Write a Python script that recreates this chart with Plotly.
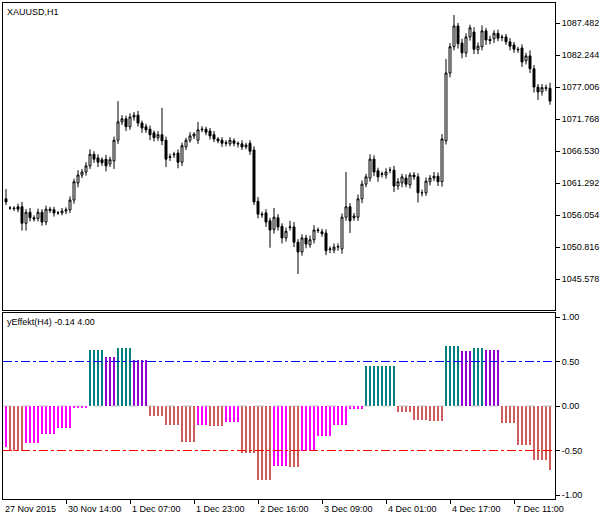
import plotly.graph_objects as go
from plotly.subplots import make_subplots

# H1 candles, XAUUSD (index = bar number)
opens = [1058.7, 1057.2, 1057.2, 1057.4, 1057.4, 1054.7, 1056.5, 1055.6, 1055.5, 1056.5,
         1054.9, 1057.0, 1056.9, 1056.4, 1056.4, 1056.7, 1056.9, 1058.5, 1061.3, 1062.6,
         1063.1, 1064.1, 1066.0, 1065.4, 1065.1, 1065.2, 1064.4, 1064.9, 1068.3, 1071.3,
         1071.8, 1070.5, 1072.1, 1072.4, 1071.1, 1070.5, 1070.1, 1069.5, 1068.7, 1069.2,
         1068.3, 1065.6, 1065.9, 1066.2, 1064.7, 1067.2, 1068.3, 1069.0, 1068.3, 1070.0,
         1070.1, 1069.8, 1069.2, 1068.5, 1068.3, 1067.9, 1067.7, 1068.2, 1067.8, 1067.7,
         1067.2, 1067.8, 1066.7, 1058.3, 1056.2, 1056.4, 1055.1, 1053.7, 1055.6, 1054.2,
         1052.3, 1054.0, 1054.1, 1051.6,
         1050.0, 1052.3, 1051.2, 1052.0, 1053.5, 1053.3, 1053.1, 1050.4, 1050.3, 1050.8,
         1050.5, 1055.7, 1057.4, 1055.6, 1055.7, 1058.7, 1061.1, 1062.1, 1065.2, 1063.3,
         1062.7, 1062.6, 1063.4, 1063.4, 1060.8, 1061.3, 1062.1, 1061.0, 1062.6, 1062.3,
         1059.7, 1059.7, 1061.5, 1062.1, 1062.4, 1061.5, 1068.2, 1079.3, 1083.6, 1087.0,
         1084.2, 1082.6, 1085.2, 1086.0, 1083.1, 1083.6, 1086.2, 1084.8, 1084.9, 1085.8,
         1085.1, 1085.2, 1084.4, 1083.9, 1083.2, 1083.4, 1081.3, 1082.1, 1080.0, 1077.0,
         1076.2, 1076.9, 1076.8]
closes = [1058.2, 1057.2, 1057.1, 1057.0, 1054.7, 1056.5, 1055.6, 1055.4, 1056.5, 1054.9,
          1057.0, 1056.8, 1056.4, 1056.4, 1056.7, 1056.9, 1058.5, 1061.5, 1062.6, 1063.1,
          1064.1, 1066.0, 1065.2, 1064.7, 1064.6, 1064.1, 1065.1, 1068.3, 1071.3, 1071.8,
          1070.5, 1072.1, 1072.4, 1071.1, 1070.3, 1070.0, 1069.2, 1068.7, 1069.2, 1068.2,
          1065.2, 1065.5, 1066.0, 1064.7, 1067.4, 1068.3, 1069.0, 1069.3, 1070.0, 1070.1,
          1069.6, 1069.0, 1068.5, 1068.2, 1067.8, 1067.8, 1068.3, 1067.8, 1067.7, 1067.2,
          1067.5, 1066.5, 1058.2, 1056.2, 1056.1, 1054.9, 1053.6, 1055.7, 1054.1, 1052.3,
          1053.4, 1054.1, 1051.6, 1050.0,
          1052.3, 1051.3, 1052.0, 1053.6, 1053.6, 1053.0, 1050.2, 1050.5, 1050.8, 1050.9,
          1055.7, 1057.4, 1055.1, 1055.9, 1058.7, 1061.1, 1062.3, 1065.2, 1063.1, 1062.3,
          1062.8, 1063.1, 1063.4, 1060.8, 1061.5, 1062.3, 1061.1, 1062.6, 1062.3, 1059.7,
          1059.7, 1061.6, 1062.1, 1062.4, 1061.5, 1068.5, 1079.3, 1083.6, 1087.0, 1084.1,
          1082.6, 1085.2, 1086.7, 1083.2, 1083.7, 1086.2, 1084.7, 1084.6, 1085.8, 1085.0,
          1085.2, 1084.4, 1083.7, 1083.2, 1083.1, 1081.1, 1082.1, 1080.0, 1077.0, 1076.2,
          1076.9, 1076.8, 1074.7]
# wick lengths above / below the body
wick_up = [1.6, 0.3, 0.3, 0.5, 0.8, 0.5, 0.7, 0.4, 0.6, 0.5,
           0.6, 0.4, 0.5, 0.3, 0.5, 0.4, 0.6, 0.5, 0.8, 0.5,
           0.6, 0.8, 0.5, 0.6, 0.4, 0.7, 0.5, 0.6, 3.4, 0.6,
           0.5, 0.6, 0.5, 0.7, 0.4, 0.5, 0.6, 0.4, 0.6, 4.4,
           0.6, 0.5, 0.4, 0.6, 0.5, 0.4, 0.6, 0.3, 1.3, 0.5,
           0.4, 0.5, 0.6, 0.3, 0.5, 0.4, 0.5, 0.4, 0.3, 0.6,
           0.4, 0.5, 0.6, 0.7, 0.4, 0.6, 0.5, 1.5, 0.6, 0.5,
           0.6, 1.0, 0.8, 0.5,
           0.6, 0.5, 0.7, 0.8, 0.4, 0.5, 0.6, 0.4, 0.6, 0.5,
           0.6, 5.7, 0.6, 0.5, 0.7, 0.6, 0.5, 0.8, 0.6, 0.5,
           0.4, 0.6, 0.5, 0.7, 0.6, 0.5, 0.6, 0.4, 0.5, 0.6,
           0.5, 0.6, 0.5, 0.7, 0.6, 0.8, 2.3, 0.6, 1.8, 0.5,
           0.7, 0.6, 0.5, 0.8, 0.6, 0.9, 0.5, 0.6, 0.5, 0.6,
           0.4, 0.5, 0.6, 0.5, 0.4, 0.6, 0.5, 0.9, 0.6, 0.5,
           0.6, 0.5, 0.9]
wick_dn = [0.5, 0.3, 0.4, 0.5, 1.2, 1.2, 0.6, 0.4, 0.5, 0.6,
           0.5, 0.4, 0.6, 0.3, 0.4, 0.5, 0.5, 0.6, 0.7, 0.5,
           0.6, 0.5, 0.6, 0.8, 0.5, 0.9, 0.5, 1.3, 0.6, 0.5,
           0.7, 0.5, 0.6, 0.6, 0.8, 0.5, 0.9, 0.6, 0.5, 0.7,
           1.3, 0.6, 0.5, 1.0, 0.6, 0.5, 0.4, 0.5, 0.6, 0.4,
           0.5, 0.6, 0.5, 0.4, 0.6, 0.5, 0.4, 0.5, 0.6, 0.5,
           0.4, 0.6, 0.5, 0.7, 0.5, 0.8, 2.9, 0.7, 0.6, 0.9,
           0.6, 0.5, 0.8, 3.6,
           0.6, 0.7, 0.5, 0.6, 0.4, 0.5, 0.7, 0.6, 0.5, 0.6,
           0.8, 0.6, 2.0, 0.5, 0.6, 0.7, 0.5, 0.6, 0.7, 0.8,
           0.5, 0.6, 0.5, 1.0, 0.6, 0.7, 0.5, 0.6, 0.5, 1.6,
           0.6, 0.5, 0.6, 0.5, 0.7, 0.8, 0.6, 0.7, 0.6, 0.8,
           0.9, 0.7, 0.6, 0.8, 0.7, 0.6, 0.8, 0.6, 0.7, 0.5,
           0.6, 0.5, 0.7, 0.6, 0.5, 0.8, 0.6, 0.7, 0.9, 1.3,
           0.6, 0.5, 0.6]

# yEffekt(H4) histogram, one value per H1 bar
effekt = [-0.46] + [-0.51] * 4 + [-0.42] * 4 + [-0.31] * 4 + [-0.25] * 4 + [-0.02] * 4 \
    + [0.63] * 4 + [0.55] * 3 + [0.65] * 4 + [0.52] * 4 \
    + [-0.11] * 4 + [-0.21] * 4 + [-0.41] * 4 + [-0.21] * 3 + [-0.22] * 4 + [-0.18] * 4 \
    + [-0.53] * 4 + [-0.83] * 4 + [-0.67] * 4 + [-0.68] * 3 \
    + [-0.50] * 4 + [-0.34] * 4 + [-0.21] * 4 + [-0.03] * 4 + [0.45] * 8 \
    + [-0.07] * 4 + [-0.16] * 4 + [-0.17] * 4 \
    + [0.67] * 4 + [0.62] * 3 + [0.65] * 3 + [0.63] * 4 \
    + [-0.19] * 4 + [-0.44] * 4 + [-0.61] * 4 + [-0.72]
effekt_kind = ["dn_rise"] + ["dn_fall"] * 4 + ["dn_rise"] * 16 \
    + ["up_rise"] * 4 + ["up_fall"] * 3 + ["up_rise"] * 4 + ["up_fall"] * 4 \
    + ["dn_fall"] * 12 + ["dn_rise"] * 3 + ["dn_fall"] * 4 + ["dn_rise"] * 4 \
    + ["dn_fall"] * 8 + ["dn_rise"] * 4 + ["dn_fall"] * 3 \
    + ["dn_rise"] * 16 + ["up_rise"] * 8 + ["dn_fall"] * 12 \
    + ["up_rise"] * 4 + ["up_fall"] * 3 + ["up_rise"] * 3 + ["up_fall"] * 4 \
    + ["dn_fall"] * 13
kind_colors = {"up_rise": "#008080", "up_fall": "#9400D3",
               "dn_rise": "#FF00FF", "dn_fall": "#CD5C5C"}

tick_bars = [-1, 15, 31, 47, 63, 79, 95, 111, 127]
tick_labels = ["27 Nov 2015", "30 Nov 14:00", "1 Dec 07:00", "1 Dec 23:00", "2 Dec 16:00",
               "3 Dec 09:00", "4 Dec 01:00", "4 Dec 17:00", "7 Dec 11:00"]
price_ticks = [1045.578, 1050.816, 1056.054, 1061.292, 1066.530,
               1071.768, 1077.006, 1082.244, 1087.482]
effekt_ticks = [-1.0, -0.5, 0.0, 0.5, 1.0]

x = list(range(len(opens)))
highs = [max(o, c) + u for o, c, u in zip(opens, closes, wick_up)]
lows = [min(o, c) - d for o, c, d in zip(opens, closes, wick_dn)]

fig = make_subplots(rows=2, cols=1, shared_xaxes=True)
fig.add_trace(go.Candlestick(
    x=x, open=opens, high=highs, low=lows, close=closes,
    increasing=dict(line=dict(color="black", width=1), fillcolor="white"),
    decreasing=dict(line=dict(color="black", width=1), fillcolor="black"),
    whiskerwidth=0, showlegend=False, hoverinfo="skip"), row=1, col=1)
fig.add_trace(go.Bar(
    x=x, y=effekt, width=0.6, marker_color=[kind_colors[k] for k in effekt_kind],
    marker_line_width=0, showlegend=False), row=2, col=1)

font = dict(family="Liberation Sans", size=9, color="black")
axis_style = dict(showgrid=False, zeroline=False, showline=True, linecolor="black",
                  linewidth=1, mirror=True, ticks="outside", ticklen=4, tickcolor="black",
                  tickfont=font, automargin=False)
x_range = [-0.75, 137.25]
fig.update_xaxes(range=x_range, tickvals=tick_bars, showticklabels=False,
                 rangeslider_visible=False, **axis_style)
fig.update_xaxes(ticks="", row=1, col=1)
fig.update_yaxes(side="right", **axis_style)
fig.update_yaxes(range=[1040.5, 1090.76], tickvals=price_ticks,
                 ticktext=["%.3f" % p for p in price_ticks], row=1, col=1)
fig.update_yaxes(range=[-1.045, 1.045], tickvals=effekt_ticks,
                 ticktext=["%.2f" % v for v in effekt_ticks], row=2, col=1)

for level, color, dash in [(0.5, "#0000FF", "dashdot"), (-0.5, "#FF0000", "dashdot"),
                           (0.0, "#C0C0C0", "dash")]:
    fig.add_shape(type="line", xref="x2 domain", yref="y2", x0=0, x1=1, y0=level, y1=level,
                  line=dict(color=color, width=1, dash=dash), layer="above")

# time labels sit to the right of their tick, as in the terminal
for tb, tl in zip(tick_bars, tick_labels):
    frac = (tb - x_range[0]) / (x_range[1] - x_range[0])
    fig.add_annotation(x=max(frac, 0), xref="paper", y=0, yref="paper", yanchor="top",
                       yshift=-3, xanchor="left", xshift=0, text=tl,
                       showarrow=False, font=font)
fig.add_annotation(x=0, xref="paper", y=1, yref="paper", xanchor="left", yanchor="top",
                   xshift=2, yshift=-2, text="XAUUSD,H1", showarrow=False, font=font)
fig.add_annotation(x=0, xref="paper", y=0.375, yref="paper", xanchor="left",
                   yanchor="top", xshift=2, yshift=-2, text="yEffekt(H4) -0.14 4.00",
                   showarrow=False, font=font)

fig.update_layout(
    width=611, height=520, margin=dict(l=3, r=56, t=3, b=21),
    paper_bgcolor="white", plot_bgcolor="white", bargap=0,
    yaxis=dict(domain=[0.381, 1.0]), yaxis2=dict(domain=[0.0, 0.375]),
)
fig.write_html("out.html", config={"displayModeBar": False},
               post_script="document.body.style.margin='0';")
